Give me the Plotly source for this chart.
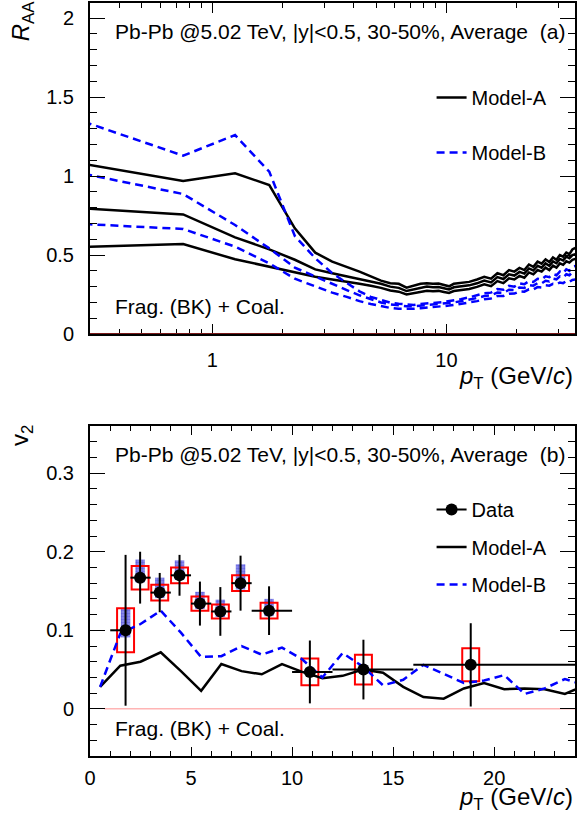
import math
import plotly.graph_objects as go

# ---------------- Panel (a): R_AA ----------------
pt_raa = [0.25, 0.75, 1.25, 1.75, 2.25, 2.75, 3.25, 3.75, 4.25, 4.75, 5.25, 5.75,
          6.25, 6.75, 7.25, 7.75, 8.25, 8.75, 9.25, 9.75, 10.25, 10.75,
          11.5, 12.5, 13.5, 14.5, 15.5, 16.5, 17.5, 18.5, 19.5, 20.5, 21.5, 22.5,
          23.5, 24.5, 25.5, 26.5, 27.5, 28.5, 29.5, 30.5, 31.5, 32.5, 33.5, 34.5, 35.5]

raa_A_up = [1.09, 0.968, 1.017, 0.943, 0.669, 0.515, 0.458, 0.425, 0.395, 0.365, 0.338, 0.322,
            0.318, 0.293, 0.305, 0.318, 0.322, 0.318, 0.320, 0.312, 0.302, 0.318,
            0.325, 0.330, 0.345, 0.362, 0.350, 0.385, 0.372, 0.405, 0.395, 0.418, 0.405, 0.440,
            0.425, 0.458, 0.445, 0.472, 0.455, 0.485, 0.470, 0.500, 0.490, 0.515, 0.505, 0.535, 0.545]
raa_A_mid = [0.80, 0.757, 0.612, 0.536, 0.470, 0.409, 0.385, 0.365, 0.350, 0.335, 0.318, 0.300,
             0.292, 0.272, 0.282, 0.295, 0.300, 0.296, 0.298, 0.290, 0.282, 0.296,
             0.303, 0.308, 0.321, 0.338, 0.327, 0.360, 0.348, 0.378, 0.370, 0.393, 0.382, 0.415,
             0.402, 0.432, 0.420, 0.447, 0.432, 0.460, 0.448, 0.475, 0.466, 0.490, 0.480, 0.500, 0.505]
raa_A_lo = [0.548, 0.570, 0.473, 0.426, 0.388, 0.363, 0.345, 0.332, 0.318, 0.305, 0.292, 0.275,
            0.268, 0.251, 0.260, 0.270, 0.274, 0.270, 0.273, 0.266, 0.260, 0.272,
            0.279, 0.285, 0.298, 0.315, 0.303, 0.335, 0.322, 0.352, 0.345, 0.368, 0.356, 0.390,
            0.378, 0.405, 0.395, 0.420, 0.405, 0.433, 0.420, 0.447, 0.438, 0.460, 0.452, 0.470, 0.475]

raa_B_up = [1.37, 1.129, 1.259, 1.027, 0.62, 0.48, 0.385, 0.325, 0.27, 0.235, 0.215, 0.198,
            0.192, 0.186, 0.184, 0.190, 0.195, 0.197, 0.200, 0.203, 0.207, 0.212,
            0.220, 0.232, 0.245, 0.258, 0.262, 0.285, 0.280, 0.305, 0.300, 0.320, 0.315, 0.335,
            0.330, 0.350, 0.345, 0.365, 0.360, 0.380, 0.372, 0.395, 0.385, 0.410, 0.400, 0.425, 0.43]
raa_B_mid = [1.03, 0.886, 0.69, 0.542, 0.42, 0.363, 0.315, 0.278, 0.245, 0.220, 0.200, 0.188,
             0.180, 0.176, 0.176, 0.180, 0.184, 0.186, 0.189, 0.193, 0.196, 0.200,
             0.207, 0.216, 0.228, 0.240, 0.245, 0.262, 0.260, 0.280, 0.278, 0.295, 0.292, 0.310,
             0.306, 0.322, 0.320, 0.337, 0.333, 0.350, 0.346, 0.365, 0.358, 0.378, 0.372, 0.390, 0.395]
raa_B_lo = [0.70, 0.665, 0.553, 0.447, 0.35, 0.30, 0.262, 0.235, 0.208, 0.190, 0.176, 0.165,
            0.160, 0.158, 0.160, 0.163, 0.166, 0.170, 0.173, 0.176, 0.180, 0.184,
            0.190, 0.198, 0.208, 0.220, 0.225, 0.240, 0.240, 0.255, 0.256, 0.270, 0.268, 0.283,
            0.282, 0.297, 0.295, 0.308, 0.306, 0.318, 0.314, 0.326, 0.322, 0.335, 0.330, 0.342, 0.345]

# ---------------- Panel (b): v2 ----------------
pt_data = [1.76, 2.48, 3.45, 4.43, 5.44, 6.45, 7.45, 8.86, 10.88, 13.53, 18.84]
pt_bin_lo = [1, 2, 3, 4, 5, 6, 7, 8, 10, 12, 16]
pt_bin_hi = [2, 3, 4, 5, 6, 7, 8, 10, 12, 16, 24]
v2_data = [0.100, 0.167, 0.148, 0.170, 0.134, 0.124, 0.160, 0.125, 0.047, 0.050, 0.056]
v2_stat = [0.096, 0.033, 0.025, 0.026, 0.028, 0.031, 0.035, 0.031, 0.040, 0.038, 0.053]
v2_sys = [0.028, 0.015, 0.010, 0.010, 0.009, 0.009, 0.010, 0.010, 0.017, 0.019, 0.021]
v2_blue_lo = [0.091, 0.161, 0.141, 0.164, 0.127, 0.117, 0.152, 0.118]
v2_blue_hi = [0.128, 0.190, 0.167, 0.189, 0.149, 0.139, 0.184, 0.140]

pt_model = [0.5, 1.5, 2.5, 3.5, 4.5, 5.5, 6.5, 7.5, 8.5, 9.5, 10.5, 11.5, 12.5,
            13.5, 14.5, 15.5, 16.5, 17.5, 18.5, 19.5, 20.5, 21.5, 22.5, 23.5, 24.5]
v2_A = [0.028, 0.055, 0.060, 0.072, 0.048, 0.023, 0.057, 0.048, 0.044, 0.057, 0.047, 0.039, 0.042,
        0.050, 0.046, 0.028, 0.015, 0.013, 0.026, 0.033, 0.025, 0.026, 0.025, 0.019, 0.030]
v2_B = [0.028, 0.096, 0.108, 0.125, 0.097, 0.066, 0.067, 0.080, 0.069, 0.078, 0.063, 0.040, 0.071,
        0.054, 0.030, 0.037, 0.056, 0.045, 0.033, 0.036, 0.043, 0.019, 0.026, 0.038, 0.030]

zero_line_start_b = 0.7

FONT = "Liberation Sans, Arial, Helvetica, sans-serif"
BLUE = "#0000ff"
DASH = "8px,5px"

fig = go.Figure()

# Panel (a) curves
for i, ys in enumerate([raa_A_up, raa_A_mid, raa_A_lo]):
    fig.add_trace(go.Scatter(x=pt_raa, y=ys, mode="lines", name="Model-A",
                             line=dict(color="black", width=2.5),
                             xaxis="x", yaxis="y", legend="legend",
                             legendgroup="aA", showlegend=(i == 0)))
for i, ys in enumerate([raa_B_up, raa_B_mid, raa_B_lo]):
    fig.add_trace(go.Scatter(x=pt_raa, y=ys, mode="lines", name="Model-B",
                             line=dict(color=BLUE, width=2.5, dash=DASH),
                             xaxis="x", yaxis="y", legend="legend",
                             legendgroup="aB", showlegend=(i == 0)))

# Panel (b) systematic boxes
n_blue = len(v2_blue_lo)
fig.add_trace(go.Bar(x=pt_data[:n_blue], base=v2_blue_lo,
                     y=[h - l for h, l in zip(v2_blue_hi, v2_blue_lo)],
                     width=0.47,
                     marker=dict(color="rgba(60,60,220,0.55)", line=dict(width=0),
                                 pattern=dict(shape=".", fgcolor="rgba(40,40,210,0.9)",
                                              size=3, solidity=0.5)),
                     xaxis="x2", yaxis="y2", showlegend=False, hoverinfo="skip"))
fig.add_trace(go.Bar(x=pt_data, base=[v - s for v, s in zip(v2_data, v2_sys)],
                     y=[2 * s for s in v2_sys], width=0.84,
                     marker=dict(color="rgba(0,0,0,0)", line=dict(color="#ff0000", width=2)),
                     xaxis="x2", yaxis="y2", showlegend=False, hoverinfo="skip"))

# Legend proxy for data
fig.add_trace(go.Scatter(x=[None], y=[None], mode="lines+markers", name="Data",
                         line=dict(color="black", width=2), marker=dict(color="black", size=12),
                         xaxis="x2", yaxis="y2", legend="legend2", legendgroup="bD"))
fig.add_trace(go.Scatter(x=pt_model, y=v2_A, mode="lines", name="Model-A",
                         line=dict(color="black", width=2.5),
                         xaxis="x2", yaxis="y2", legend="legend2", legendgroup="bA"))
fig.add_trace(go.Scatter(x=pt_model, y=v2_B, mode="lines", name="Model-B",
                         line=dict(color=BLUE, width=2.5, dash=DASH),
                         xaxis="x2", yaxis="y2", legend="legend2", legendgroup="bB"))
fig.add_trace(go.Scatter(x=pt_data, y=v2_data, mode="markers", name="Data",
                         marker=dict(color="black", size=12),
                         error_y=dict(type="data", array=v2_stat, color="black", thickness=2, width=0),
                         error_x=dict(type="data", array=[h - p for h, p in zip(pt_bin_hi, pt_data)],
                                      arrayminus=[p - l for p, l in zip(pt_data, pt_bin_lo)],
                                      color="black", thickness=2, width=0),
                         xaxis="x2", yaxis="y2", showlegend=False))

axis_common = dict(showline=True, linewidth=2, linecolor="black", mirror="allticks",
                   ticks="inside", tickwidth=1.2, tickcolor="black", showgrid=False,
                   zeroline=False, tickfont=dict(family=FONT, size=20, color="black"))

fig.update_layout(
    width=578, height=824, autosize=False,
    margin=dict(l=90, r=1, t=3, b=68),
    paper_bgcolor="white", plot_bgcolor="white",
    barmode="overlay",
    font=dict(family=FONT, size=20, color="black"),
    xaxis=dict(axis_common, type="log", range=[math.log10(0.3), math.log10(35.4)],
               domain=[0, 1], anchor="y", tickmode="array", tickvals=[1, 10], ticktext=["1", "10"],
               ticklen=10, ticklabelstandoff=7,
               minor=dict(tickmode="array",
                          tickvals=[0.4, 0.5, 0.6, 0.7, 0.8, 0.9, 2, 3, 4, 5, 6, 7, 8, 9, 20, 30],
                          ticks="inside", ticklen=5, tickwidth=1, tickcolor="black", showgrid=False)),
    yaxis=dict(axis_common, range=[0, 2.095], domain=[0.5604, 1], anchor="x",
               tickmode="linear", tick0=0, dtick=0.5, ticklen=15, ticklabelstandoff=10,
               minor=dict(dtick=0.1, ticks="inside", ticklen=7, tickwidth=1, tickcolor="black",
                          showgrid=False)),
    xaxis2=dict(axis_common, range=[0, 24], domain=[0, 1], anchor="y2",
                tickmode="linear", tick0=0, dtick=5, ticklen=9, ticklabelstandoff=3,
                minor=dict(dtick=1, ticks="inside", ticklen=5, tickwidth=1, tickcolor="black",
                           showgrid=False)),
    yaxis2=dict(axis_common, range=[-0.06, 0.36], domain=[0, 0.4382], anchor="x2",
                tickmode="linear", tick0=0, dtick=0.1, ticklen=15, ticklabelstandoff=10,
                minor=dict(dtick=0.02, ticks="inside", ticklen=7, tickwidth=1, tickcolor="black",
                           showgrid=False)),
    legend=dict(x=0.7043, y=0.9004, xanchor="left", yanchor="top", bgcolor="rgba(0,0,0,0)",
                font=dict(family=FONT, size=20), traceorder="grouped", tracegroupgap=26),
    legend2=dict(x=0.7043, y=0.3533, xanchor="left", yanchor="top", bgcolor="rgba(0,0,0,0)",
                 font=dict(family=FONT, size=20), traceorder="grouped", tracegroupgap=8.5),
)

fig.add_shape(type="line", xref="x domain", yref="y", x0=0, x1=1, y0=0, y1=0,
              line=dict(color="#7a1a1a", width=2), layer="above")
fig.add_shape(type="line", xref="x2", yref="y2", x0=zero_line_start_b, x1=24, y0=0, y1=0,
              line=dict(color="#ffb4b4", width=1.5), layer="below")

header = "Pb-Pb @5.02 TeV, |y|<0.5, 30-50%, Average\u00a0\u00a0"
ann = [
    dict(text=header + "(a)", x=0.0472, y=0.9628, xanchor="left", yanchor="middle"),
    dict(text="Frag. (BK) + Coal.", x=0.0472, y=0.5976, xanchor="left", yanchor="middle"),
    dict(text=header + "(b)", x=0.0472, y=0.401, xanchor="left", yanchor="middle"),
    dict(text="Frag. (BK) + Coal.", x=0.0472, y=0.0359, xanchor="left", yanchor="middle"),
    dict(text="<i>R</i><sub>AA</sub>", x=-0.1396, y=0.976, xanchor="center", yanchor="middle",
         textangle=-90, font=dict(family=FONT, size=24)),
    dict(text="v<sub>2</sub>", x=-0.14, y=(756 - 436) / 753, xanchor="center", yanchor="middle",
         textangle=-90, font=dict(family=FONT, size=24)),
    dict(text="<i>p</i><sub>T</sub> (GeV/<i>c</i>)", x=1.0, y=(756 - 377) / 753, xanchor="right",
         yanchor="middle", font=dict(family=FONT, size=24)),
    dict(text="<i>p</i><sub>T</sub> (GeV/<i>c</i>)", x=1.0, y=(756 - 798) / 753, xanchor="right",
         yanchor="middle", font=dict(family=FONT, size=24)),
]
for a in ann:
    a.setdefault("font", dict(family=FONT, size=21))
    fig.add_annotation(xref="paper", yref="paper", showarrow=False, **a)

fig.write_html("out.html", config={"displayModeBar": False},
               post_script="document.body.style.margin='0';document.body.style.padding='0';")
